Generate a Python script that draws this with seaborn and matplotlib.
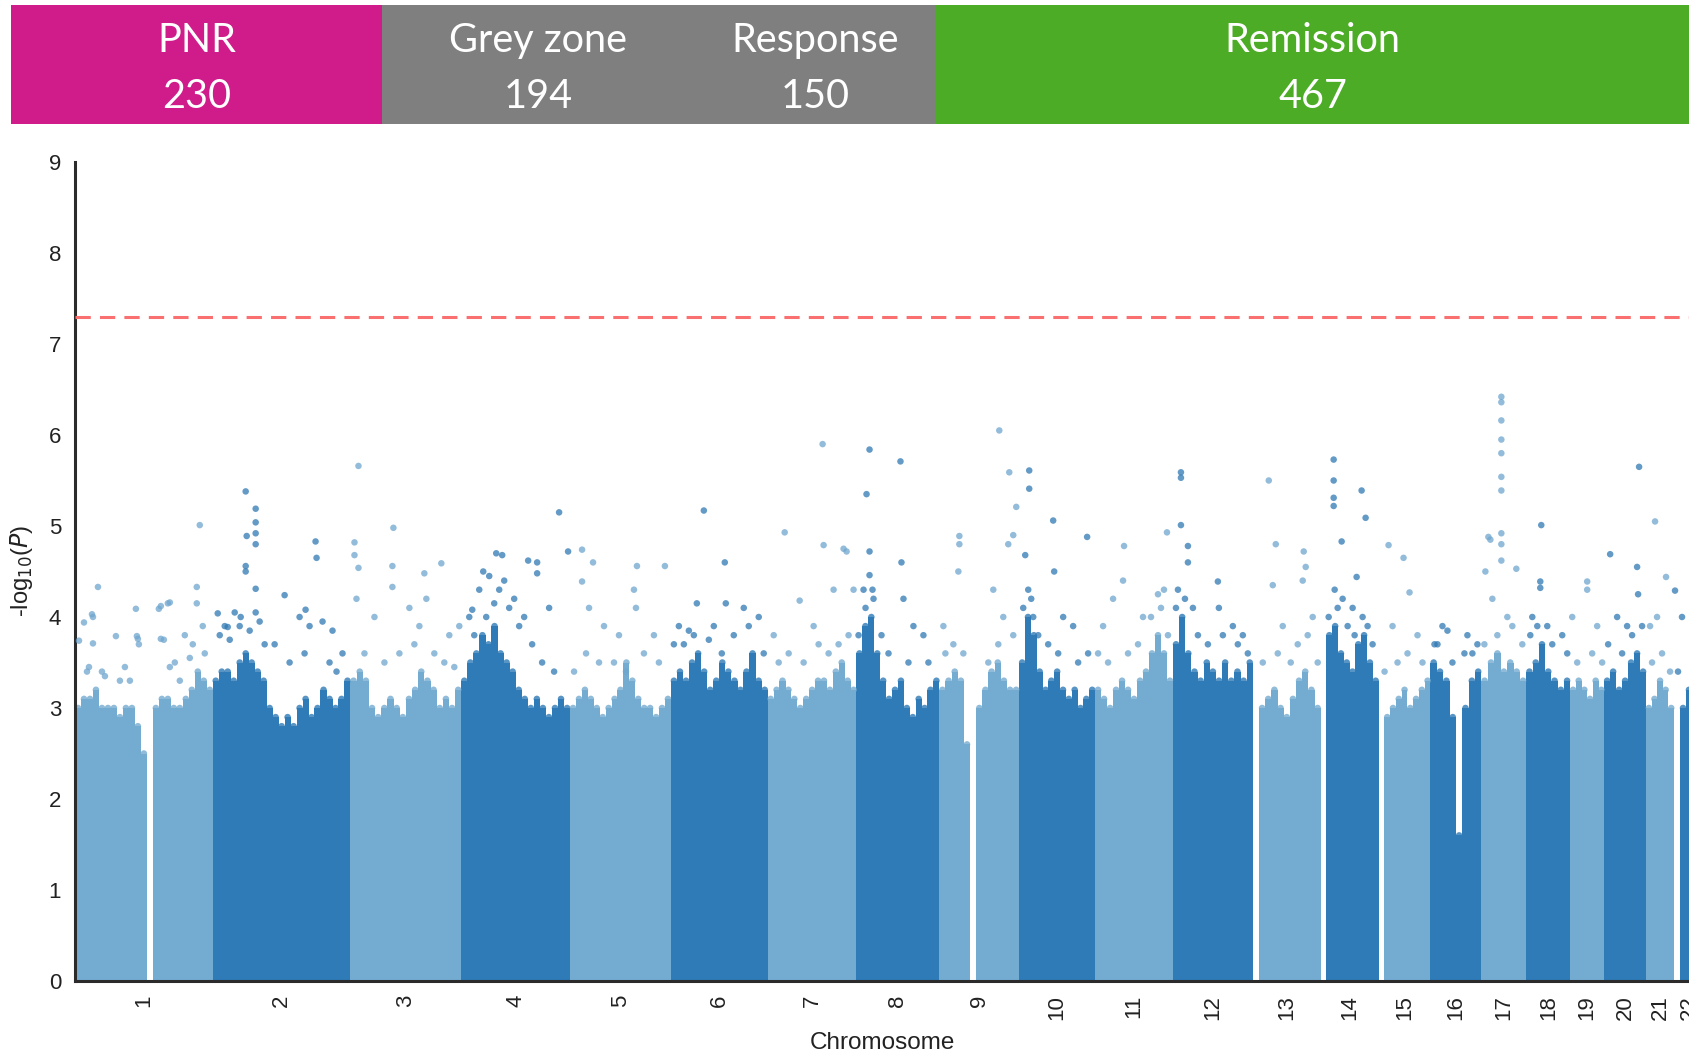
import numpy as np
import pandas as pd
import matplotlib
matplotlib.use("Agg")
import matplotlib.pyplot as plt
import seaborn as sns

# ---------------- data ----------------
groups = ["PNR", "Grey zone", "Response", "Remission"]
group_n = [230, 194, 150, 467]
group_colors = ["#d01c8b", "#7f7f7f", "#7f7f7f", "#4dac26"]

chroms = [str(i) for i in range(1, 23)]
# relative chromosome lengths
chrom_len = [138, 138, 111, 109, 101, 97, 89, 83, 80, 76, 78, 80,
             68, 58, 52, 51, 45, 44, 34, 42, 28, 30]

# upper edge of the dense SNP cloud, per chromosome (equal-width bins)
band_profile = [
    [3.0, 3.1, 3.1, 3.2, 3.0, 3.0, 3.0, 2.9, 3.0, 3.0, 2.8, 2.5, 0.0, 3.0, 3.1, 3.1, 3.0, 3.0, 3.1, 3.2, 3.4, 3.3, 3.2],
    [3.3, 3.4, 3.4, 3.3, 3.5, 3.6, 3.5, 3.4, 3.3, 3.0, 2.9, 2.8, 2.9, 2.8, 3.0, 3.1, 2.9, 3.0, 3.2, 3.1, 3.0, 3.1, 3.3],
    [3.3, 3.4, 3.3, 3.0, 2.9, 3.0, 3.1, 3.0, 2.9, 3.1, 3.2, 3.4, 3.3, 3.2, 3.0, 3.1, 3.0, 3.2],
    [3.3, 3.5, 3.6, 3.8, 3.7, 3.9, 3.6, 3.5, 3.4, 3.2, 3.1, 3.0, 3.1, 3.0, 2.9, 3.0, 3.1, 3.0],
    [3.0, 3.1, 3.2, 3.1, 3.0, 2.9, 3.0, 3.1, 3.2, 3.5, 3.3, 3.1, 3.0, 3.0, 2.9, 3.0, 3.1],
    [3.3, 3.4, 3.3, 3.5, 3.6, 3.4, 3.2, 3.3, 3.5, 3.4, 3.3, 3.2, 3.4, 3.6, 3.3, 3.2],
    [3.1, 3.2, 3.3, 3.2, 3.1, 3.0, 3.1, 3.2, 3.3, 3.3, 3.2, 3.4, 3.5, 3.3, 3.2],
    [3.6, 3.9, 4.0, 3.6, 3.3, 3.1, 3.2, 3.3, 3.0, 2.9, 3.1, 3.0, 3.2, 3.3],
    [3.2, 3.3, 3.4, 3.3, 2.6, 0.0, 3.0, 3.2, 3.4, 3.5, 3.3, 3.2, 3.2],
    [3.5, 4.0, 3.8, 3.4, 3.2, 3.3, 3.4, 3.2, 3.1, 3.2, 3.0, 3.1, 3.2],
    [3.2, 3.1, 3.0, 3.2, 3.3, 3.2, 3.1, 3.3, 3.4, 3.6, 3.8, 3.6, 3.3],
    [3.7, 4.0, 3.6, 3.4, 3.3, 3.5, 3.4, 3.3, 3.5, 3.3, 3.4, 3.3, 3.5],
    [0.0, 3.0, 3.1, 3.2, 3.0, 2.9, 3.1, 3.3, 3.4, 3.2, 3.0],
    [0.0, 3.8, 3.9, 3.6, 3.5, 3.4, 3.7, 3.8, 3.5, 3.3],
    [0.0, 2.9, 3.0, 3.1, 3.2, 3.0, 3.1, 3.2, 3.3],
    [3.5, 3.4, 3.3, 2.9, 1.6, 3.0, 3.3, 3.4],
    [3.3, 3.5, 3.6, 3.4, 3.5, 3.4, 3.3],
    [3.4, 3.5, 3.7, 3.4, 3.3, 3.2, 3.3],
    [3.2, 3.3, 3.2, 3.1, 3.3, 3.2],
    [3.3, 3.4, 3.2, 3.3, 3.5, 3.6, 3.4],
    [3.0, 3.1, 3.3, 3.2, 3.0],
    [0.0, 3.0, 3.2, 3.1, 3.0],
]

# individual SNPs standing above the cloud (cumulative position, -log10 P)
snp_pos = [4, 9, 17, 23, 14, 27, 41, 50, 61, 62, 64, 84, 93, 89, 100, 110, 122, 122, 125, 118, 128,
           12, 30, 45, 55, 95, 105, 115, 130, 18, 18, 63, 86, 86, 95,
           171, 181, 181, 181, 181, 172, 171, 171, 181, 181, 160, 166, 150, 210, 241, 242, 225, 235, 248, 258, 268, 200,
           145, 155, 165, 175, 185, 190, 215, 230, 255, 262, 143, 153, 231,
           284, 280, 280, 284, 282, 300, 319, 318, 318, 335, 350, 352, 367, 345, 375, 385,
           290, 310, 325, 340, 360, 370, 380,
           485, 422, 428, 454, 463, 463, 409, 405, 415, 430, 440, 475, 395, 450,
           400, 412, 420, 425, 435, 445, 458, 468, 480, 398,
           494, 508, 519, 508, 563, 591, 560, 562, 530, 545, 580, 515,
           500, 512, 525, 540, 552, 570, 585,
           630, 651, 623, 652, 605, 640, 670, 685, 615,
           600, 610, 620, 635, 648, 660, 675, 690,
           749, 711, 750, 773, 770, 726, 760, 740, 700, 780,
           705, 715, 730, 745, 755, 765, 775,
           796, 827, 793, 796, 828, 796, 790, 799, 830, 840, 850,
           785, 792, 800, 808, 815, 835, 855,
           926, 886, 886, 936, 943, 940, 935, 920, 885, 870, 930,
           872, 880, 890, 915, 925, 940,
           956, 956, 980, 952, 981, 955, 960, 990, 1000, 1014,
           950, 958, 965, 975, 985, 1005, 1015,
           1051, 1094, 1050, 1040, 1085, 1091, 1070, 1030,
           1025, 1035, 1055, 1065, 1078, 1088, 1095,
           1108, 1108, 1108, 1115, 1115, 1145, 1105, 1146, 1120, 1160, 1170,
           1103, 1112, 1125, 1135, 1150, 1165, 1175,
           1196, 1203, 1231, 1233, 1230, 1200, 1210, 1240,
           1190, 1205, 1218, 1225, 1235, 1245,
           1261, 1261, 1261, 1261, 1289, 1293, 1269, 1284, 1262, 1270, 1290, 1280,
           1256, 1265, 1275, 1282, 1295, 1300,
           1316, 1331, 1337, 1320, 1345, 1312, 1325, 1335, 1350,
           1370, 1375, 1395, 1365, 1400, 1362, 1380, 1392, 1405,
           1429, 1429, 1429, 1429, 1429, 1429, 1429, 1429, 1429, 1429, 1416, 1418, 1413, 1444, 1435, 1420,
           1412, 1425, 1440, 1450,
           1469, 1468, 1468, 1460, 1475, 1490, 1458, 1465, 1480, 1495,
           1515, 1515, 1500, 1525, 1505, 1520, 1530,
           1538, 1565, 1567, 1566, 1545, 1555, 1536, 1550, 1560, 1570,
           1583, 1594, 1585, 1578, 1580, 1590, 1598,
           1603, 1610, 1606]
snp_logp = [3.74, 3.94, 4.03, 4.33, 3.45, 3.4, 3.79, 3.45, 4.09, 3.79, 3.7, 4.09, 4.15, 3.75, 3.5, 3.8, 4.33, 4.15, 5.01, 3.7, 3.9,
            3.4, 3.35, 3.3, 3.3, 3.45, 3.3, 3.55, 3.6, 4.0, 3.71, 3.76, 4.12, 3.76, 4.16,
            5.38, 5.19, 5.04, 4.92, 4.8, 4.89, 4.56, 4.5, 4.31, 4.05, 4.05, 4.0, 3.9, 4.24, 4.83, 4.65, 4.0, 3.9, 3.95, 3.85, 3.6, 3.7,
            3.8, 3.75, 3.9, 3.85, 3.95, 3.7, 3.5, 3.6, 3.5, 3.4, 4.04, 3.89, 4.08,
            5.66, 4.82, 4.68, 4.54, 4.2, 4.0, 4.98, 4.56, 4.33, 4.1, 4.48, 4.2, 4.59, 3.9, 3.8, 3.9,
            3.6, 3.5, 3.6, 3.7, 3.6, 3.5, 3.45,
            5.15, 4.7, 4.68, 4.62, 4.6, 4.48, 4.5, 4.3, 4.45, 4.4, 4.2, 4.1, 4.0, 4.0,
            3.8, 4.0, 4.15, 4.3, 4.1, 3.9, 3.7, 3.5, 3.4, 4.08,
            4.72, 4.74, 4.6, 4.39, 4.56, 4.56, 4.3, 4.1, 3.9, 3.8, 3.8, 4.1,
            3.4, 3.6, 3.5, 3.5, 3.4, 3.6, 3.5,
            5.17, 4.6, 4.15, 4.15, 3.9, 3.9, 4.1, 4.0, 3.85,
            3.7, 3.7, 3.8, 3.75, 3.6, 3.8, 3.9, 3.6,
            5.9, 4.93, 4.79, 4.72, 4.75, 4.18, 4.3, 3.9, 3.8, 4.3,
            3.5, 3.6, 3.5, 3.7, 3.6, 3.7, 3.8,
            5.84, 5.71, 5.35, 4.72, 4.6, 4.46, 4.3, 4.3, 4.2, 3.9, 3.8,
            3.8, 4.1, 4.2, 3.8, 3.6, 3.5, 3.5,
            6.05, 4.89, 4.8, 5.59, 5.21, 4.9, 4.8, 4.3, 4.5, 3.9, 4.0,
            3.6, 3.7, 3.6, 3.5, 3.7, 3.8,
            5.61, 5.41, 5.06, 4.68, 4.5, 4.3, 4.0, 4.0, 3.9, 4.88,
            4.1, 4.2, 3.8, 3.7, 3.6, 3.5, 3.6,
            4.78, 4.93, 4.4, 4.2, 4.25, 4.3, 4.0, 3.9,
            3.6, 3.5, 3.6, 3.7, 4.0, 4.1, 3.8,
            5.59, 5.53, 5.01, 4.78, 4.6, 4.39, 4.3, 4.1, 4.1, 3.9, 3.8,
            4.1, 4.2, 3.8, 3.7, 3.8, 3.7, 3.6,
            5.5, 4.8, 4.72, 4.55, 4.4, 4.35, 3.9, 4.0,
            3.5, 3.6, 3.5, 3.7, 3.8, 3.5,
            5.73, 5.5, 5.31, 5.22, 5.39, 5.09, 4.83, 4.44, 4.3, 4.2, 4.0, 4.1,
            4.0, 4.1, 3.9, 3.8, 3.9, 3.7,
            4.79, 4.65, 4.27, 3.9, 3.8, 3.4, 3.5, 3.6, 3.5,
            3.9, 3.85, 3.8, 3.7, 3.6, 3.7, 3.5, 3.6, 3.7,
            6.42, 6.36, 6.16, 5.95, 5.8, 5.54, 5.39, 4.92, 4.8, 4.62, 4.88, 4.85, 4.5, 4.53, 4.0, 4.2,
            3.7, 3.8, 3.9, 3.7,
            5.01, 4.39, 4.32, 4.0, 3.9, 3.8, 3.8, 3.9, 3.7, 3.6,
            4.39, 4.3, 4.0, 3.9, 3.5, 3.6, 3.5,
            4.69, 4.55, 5.65, 4.25, 4.0, 3.9, 3.7, 3.6, 3.8, 3.9,
            5.05, 4.44, 4.0, 3.9, 3.5, 3.6, 3.4,
            4.29, 4.0, 3.4]

threshold = 7.3

# ---------------- style ----------------
sns.set_theme(style="white")
plt.rcParams["font.family"] = ["Liberation Sans", "DejaVu Sans"]
light, dark = "#74abd1", "#2e7bb7"
chrom_colors = [light if i % 2 == 0 else dark for i in range(len(chroms))]

fig = plt.figure(figsize=(16.89, 10.52), dpi=100)

# ---------------- banner ----------------
bax = fig.add_axes([11 / 1689, 1 - 124 / 1052, 1 - 11 / 1689, 119 / 1052])
left = 0
for g, n, c in zip(groups, group_n, group_colors):
    bax.barh(0, n, left=left, height=1, color=c, linewidth=0)
    cx = left + n / 2
    bax.text(cx, 0.20, g, ha="center", va="center", color="white",
             fontsize=28.5, family=["Lato", "DejaVu Sans"])
    bax.text(cx, -0.27, str(n), ha="center", va="center", color="white",
             fontsize=28.5, family=["Lato", "DejaVu Sans"])
    left += n
bax.set_xlim(0, sum(group_n))
bax.set_ylim(-0.5, 0.5)
bax.axis("off")

# ---------------- Manhattan ----------------
ax = fig.add_axes([75 / 1689, 1 - 981 / 1052, 1 - 75 / 1689, 819 / 1052])
starts = np.concatenate([[0], np.cumsum(chrom_len)[:-1]])

rows = []
for ci, prof in enumerate(band_profile):
    w = chrom_len[ci] / len(prof)
    for bi, h in enumerate(prof):
        rows.append((starts[ci] + (bi + 0.5) * w, w, h, chrom_colors[ci]))
band = pd.DataFrame(rows, columns=["x", "w", "h", "color"])
ax.bar(band["x"], band["h"], width=band["w"] * 1.02, color=band["color"],
       linewidth=0, zorder=1)
top = band[band["h"] > 0]
ax.scatter(top["x"], top["h"], s=22, c=top["color"], alpha=0.8, linewidths=0, zorder=2)

snps = pd.DataFrame({"pos": snp_pos, "logp": snp_logp})
snps["chrom"] = np.searchsorted(np.cumsum(chrom_len), snps["pos"], side="right")
snps["parity"] = np.where(snps["chrom"] % 2 == 0, "odd", "even")
sns.scatterplot(data=snps, x="pos", y="logp", hue="parity",
                palette={"odd": "#6fa6cf", "even": "#2f78b3"}, s=22, alpha=0.75,
                linewidth=0, legend=False, ax=ax, zorder=3)

ax.axhline(threshold, color="#fa7070", lw=2.2, dashes=(5, 3), zorder=4)

ax.set_xlim(0, 1614)
ax.set_ylim(0, 9)
ax.set_yticks(range(10))
ax.set_yticklabels([str(i) for i in range(10)], fontsize=16, color="#222222")
ax.set_xticks(starts + np.array(chrom_len) / 2)
ax.set_xticklabels(chroms, rotation=90, fontsize=16, color="#222222")
ax.tick_params(axis="both", length=0, pad=10)
ax.set_xlabel("Chromosome", fontsize=17.5, color="#222222", labelpad=9)
ax.set_ylabel(r"-log$_{10}$($P$)", fontsize=17, color="#222222", labelpad=10)
for s in ["top", "right"]:
    ax.spines[s].set_visible(False)
for s in ["left", "bottom"]:
    ax.spines[s].set_color("#2b2b2b")
    ax.spines[s].set_linewidth(2.2)
ax.set_facecolor("white")

fig.savefig("out.png", dpi=100, facecolor="white")
